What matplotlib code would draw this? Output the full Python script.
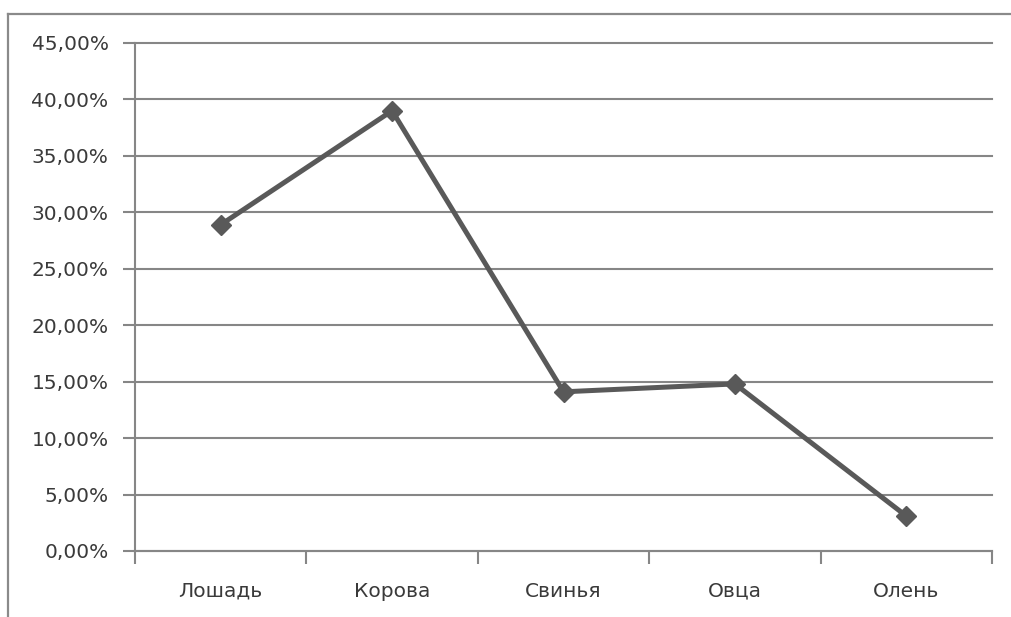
import matplotlib
matplotlib.use("Agg")
from matplotlib import pyplot as plt
from matplotlib.lines import Line2D
from matplotlib.ticker import FuncFormatter
import numpy as np

animals = ["Лошадь", "Корова", "Свинья", "Овца", "Олень"]
shares = [28.9, 39.0, 14.1, 14.8, 3.1]   # percent
y_ticks = [0, 5, 10, 15, 20, 25, 30, 35, 40, 45]

grid_color = "#868686"
line_color = "#595959"
text_color = "#3a3a3a"

fig = plt.figure(figsize=(10.12, 6.17), dpi=100)
ax = fig.add_axes([135/1012, 1 - 551/617, (992 - 135)/1012, (551 - 43)/617])

x = np.arange(len(animals)) + 0.5
ax.plot(x, shares, color=line_color, lw=3.6, marker="D", ms=10,
        markerfacecolor=line_color, markeredgecolor=line_color, zorder=3,
        solid_joinstyle="miter")

ax.set_xlim(0, len(animals))
ax.set_ylim(0, 45)

ax.set_yticks(y_ticks)
ax.yaxis.set_major_formatter(FuncFormatter(lambda v, p: ("%.2f%%" % v).replace(".", ",")))
ax.set_xticks(np.arange(len(animals) + 1))
ax.set_xticks(x, minor=True)
ax.set_xticklabels([])
ax.set_xticklabels(animals, minor=True, va="baseline")

ax.tick_params(axis="y", length=9, width=1.5, color=grid_color, pad=10,
               labelsize=14.5, labelcolor=text_color)
ax.tick_params(axis="x", which="major", length=9, width=1.5, color=grid_color)
ax.tick_params(axis="x", which="minor", length=0, pad=33,
               labelsize=14.5, labelcolor=text_color)

ax.grid(axis="y", color=grid_color, lw=1.5)
ax.set_axisbelow(True)
for gl in ax.get_ygridlines():
    gl.set_clip_on(False)
for s in ["top", "right"]:
    ax.spines[s].set_visible(False)
for s in ["left", "bottom"]:
    ax.spines[s].set_color(grid_color)
    ax.spines[s].set_linewidth(1.5)

# outer chart frame
fig.add_artist(Line2D([8/1012, 8/1012], [0, 1 - 14/617], transform=fig.transFigure,
                      color="#8a8a8a", lw=1.6))
fig.add_artist(Line2D([8/1012, 1], [1 - 14/617, 1 - 14/617], transform=fig.transFigure,
                      color="#8a8a8a", lw=1.6))

fig.savefig("out.png", dpi=100)
